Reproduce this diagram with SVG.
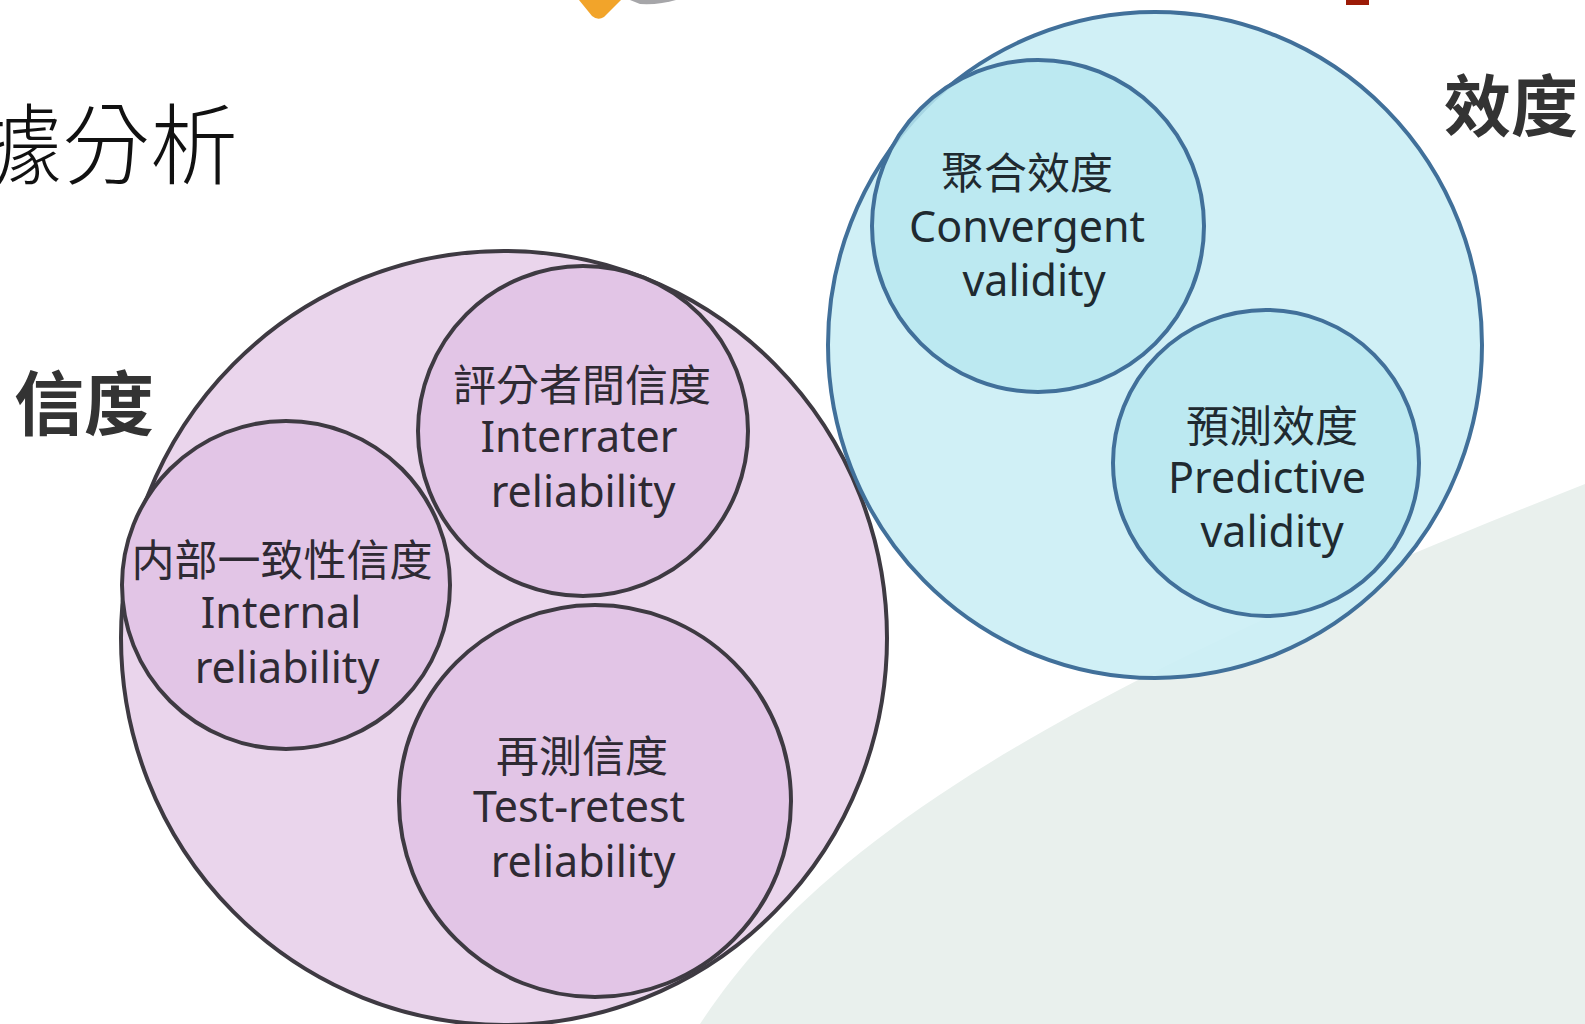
<svg xmlns="http://www.w3.org/2000/svg" width="1585" height="1024" viewBox="0 0 1585 1024">
  <style>
    .lbl { font-family: "Noto Sans", "Noto Sans CJK TC", sans-serif; font-size: 43px; text-anchor: middle; }
    .pinkTxt { fill: #2e2a33; }
    .blueTxt { fill: #1f2a30; }
    .head { font-family: "Noto Sans CJK TC", "Noto Sans", sans-serif; font-weight: bold; fill: #333333; }
    .pinkOuter { fill: #ead5ec; stroke: #3e3a42; stroke-width: 4; }
    .pinkInner { fill: #e2c5e6; stroke: #3e3a42; stroke-width: 4; }
    .blueOuter { fill: #cbeef5; fill-opacity: 0.9; stroke: #41709a; stroke-width: 4; }
    .blueInner { fill: #b8e7f0; fill-opacity: 0.85; stroke: #41709a; stroke-width: 4; }
  </style>
  <rect width="1585" height="1024" fill="#ffffff"/>

  <!-- background decorations -->
  <path d="M 700 1024 C 820 840 1060 690 1585 484 L 1585 1024 Z" fill="#e9f0ed"/>
  <path d="M 579 0 L 621 0 L 604 17 Q 598 21 592 16 Z" fill="#f2a42a"/>
  <path d="M 630 0 L 676 0 Q 660 5 640 4 Z" fill="#6b6b70" opacity="0.6"/>
  <rect x="1346" y="0" width="23" height="5" fill="#9c1b07"/>

  <!-- title -->
  <text x="-26" y="177" font-family="Noto Sans CJK TC, sans-serif" font-size="88" font-weight="300" fill="#111111">據分析</text>

  <!-- headings -->
  <text class="head" x="14" y="430" font-size="70">信度</text>
  <text class="head" x="1444" y="131" font-size="67">效度</text>

  <!-- reliability group -->
  <g id="reliability">
    <ellipse class="pinkOuter" cx="504" cy="638" rx="383" ry="387"/>
  </g>
  <g id="interrater">
    <circle class="pinkInner" cx="583" cy="431" r="165"/>
    <text class="lbl pinkTxt" x="582" y="401">評分者間信度</text>
    <text class="lbl pinkTxt" x="579" y="452">Interrater</text>
    <text class="lbl pinkTxt" x="583" y="507">reliability</text>
  </g>
  <g id="internal">
    <circle class="pinkInner" cx="286" cy="585" r="164"/>
    <text class="lbl pinkTxt" x="282" y="576">内部一致性信度</text>
    <text class="lbl pinkTxt" x="281" y="628">Internal</text>
    <text class="lbl pinkTxt" x="287" y="683">reliability</text>
  </g>
  <g id="testretest">
    <circle class="pinkInner" cx="595" cy="801" r="196"/>
    <text class="lbl pinkTxt" x="582" y="772">再測信度</text>
    <text class="lbl pinkTxt" x="579" y="822">Test-retest</text>
    <text class="lbl pinkTxt" x="583" y="877">reliability</text>
  </g>

  <!-- validity group -->
  <g id="validity">
    <ellipse class="blueOuter" cx="1155" cy="345" rx="327" ry="333"/>
  </g>
  <g id="convergent">
    <circle class="blueInner" cx="1038" cy="226" r="166"/>
    <text class="lbl blueTxt" x="1027" y="189">聚合效度</text>
    <text class="lbl blueTxt" x="1027" y="242" font-size="45">Convergent</text>
    <text class="lbl blueTxt" x="1034" y="296">validity</text>
  </g>
  <g id="predictive">
    <circle class="blueInner" cx="1266" cy="463" r="153"/>
    <text class="lbl blueTxt" x="1272" y="442">預測效度</text>
    <text class="lbl blueTxt" x="1267" y="493">Predictive</text>
    <text class="lbl blueTxt" x="1272" y="547">validity</text>
  </g>

  <g id="connectors"></g>
</svg>
